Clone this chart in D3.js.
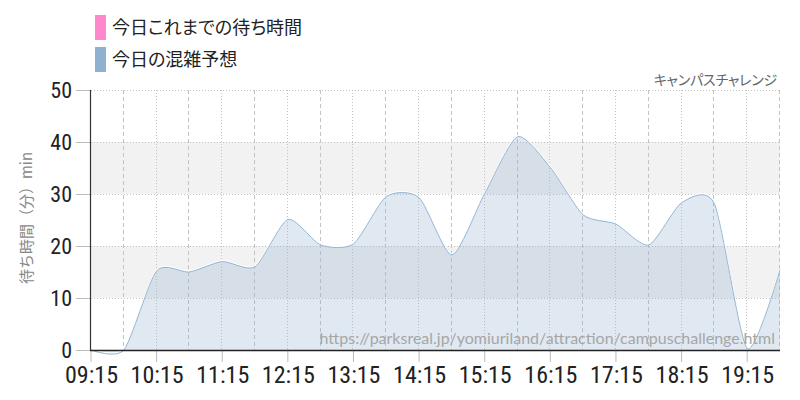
<!DOCTYPE html>
<html><head><meta charset="utf-8">
<script src="https://cdn.jsdelivr.net/npm/d3@7"></script>
<style>
html,body{margin:0;padding:0;background:#fff;}
svg{display:block;}
.num{font-family:"Roboto Condensed","Liberation Sans Narrow","DejaVu Sans Condensed",sans-serif;}
.jp{font-family:"Noto Sans CJK JP","Noto Sans",sans-serif;}
.palt{font-feature-settings:"palt";}
</style>
</head><body>
<svg id="c" width="800" height="400"></svg>
<script>
// ---- data ----
const times = ["09:15","09:45","10:15","10:45","11:15","11:45","12:15","12:45","13:15","13:45","14:15","14:45","15:15","15:45","16:15","16:45","17:15","17:45","18:15","18:45","19:15","19:45"];
const forecast = [0,0,15.2,15.0,17.0,16.0,25.1,20.2,20.4,29.5,29.3,18.3,30.1,41.0,35.1,26.0,24.2,20.2,28.3,28.1,0.3,15.4];
const actual = []; // 今日これまでの待ち時間 (no data yet)
const xTickLabels = ["09:15","10:15","11:15","12:15","13:15","14:15","15:15","16:15","17:15","18:15","19:15"];
const gridTimes = ["09:45","10:15","10:45","11:15","11:45","12:15","12:45","13:15","13:45","14:15","14:45","15:15","15:45","16:15","16:45","17:15","17:45","18:15","18:45","19:15","19:45"];
const yTicks = [0,10,20,30,40,50];
const bands = [[10,20],[30,40]];
const legendItems = [{label:"今日これまでの待ち時間",color:"#ff88cc"},{label:"今日の混雑予想",color:"#8fb0cf"}];
const title = "キャンパスチャレンジ";
const yTitle = "待ち時間（分）min";
const sourceUrl = "https://parksreal.jp/yomiuriland/attraction/campuschallenge.html";

const parse = d3.timeParse("%H:%M");
const svg = d3.select("#c");
const L=91, R=780, T=90, B=350;
const x = d3.scaleTime().domain([parse("09:15"), parse("19:45")]).range([L,R]);
const y = d3.scaleLinear().domain([0,50]).range([B,T]);

// bands
svg.selectAll("rect.band").data(bands).enter().append("rect")
  .attr("x",L).attr("width",R-L)
  .attr("y",d=>y(d[1])).attr("height",d=>y(d[0])-y(d[1]))
  .attr("fill","#f2f2f2");

// horizontal grid
svg.selectAll("line.hg").data(yTicks.filter(v=>v>0)).enter().append("line")
  .attr("x1",L).attr("x2",R).attr("y1",d=>y(d)+0.5).attr("y2",d=>y(d)+0.5)
  .attr("stroke","#c4c4c4").attr("stroke-dasharray","1,2");

// vertical grid every 30 min
const vt = gridTimes.map(parse);
svg.selectAll("line.vg").data(vt).enter().append("line")
  .attr("x1",d=>Math.round(x(d))-0.5).attr("x2",d=>Math.round(x(d))-0.5)
  .attr("y1",T).attr("y2",B)
  .attr("stroke","#c4c4c4")
  .attr("stroke-dasharray",d=>d.getMinutes()===45?"4,3":"1,2");

// area
const pts = times.map((t,i)=>({t:parse(t),v:forecast[i]}));
const curve = d3.curveCardinal.tension(0.3);
const area = d3.area().x(d=>x(d.t)).y0(y(0)).y1(d=>y(d.v)).curve(curve);
const line = d3.line().x(d=>x(d.t)).y(d=>y(d.v)).curve(curve);
svg.append("path").datum(pts).attr("d",area).attr("fill","#8fb0cf").attr("fill-opacity",0.28);
svg.append("path").datum(pts).attr("d",line).attr("fill","none").attr("stroke","#ffffff").attr("stroke-width",1.2).attr("transform","translate(0,-1)");
svg.append("path").datum(pts).attr("d",line).attr("fill","none").attr("stroke","#94b5d4").attr("stroke-width",1);

// actual series (empty)
if(actual.length){
  svg.append("path").datum(actual).attr("d",line).attr("fill","none").attr("stroke","#ff88cc");
}

// watermark
svg.append("text").attr("x",775).attr("y",344).attr("text-anchor","end")
  .attr("font-family","Lato,'Noto Sans',sans-serif").attr("font-size",16)
  .attr("fill","#a6a6a6").text(sourceUrl);

// x axis
const xa = svg.append("g").attr("transform",`translate(0,${B})`)
  .call(d3.axisBottom(x).tickValues(xTickLabels.map(parse)).tickFormat(d3.timeFormat("%H:%M")).tickSize(12).tickSizeOuter(0));
xa.select(".domain").remove();
xa.selectAll(".tick line").attr("stroke","#bbb").attr("transform","translate(-0.5,0)");
xa.selectAll(".tick text").attr("class","num").attr("font-size",24).attr("fill","#222").attr("dy","0.55em").attr("y",20);
svg.append("line").attr("x1",L-1).attr("x2",R).attr("y1",B+0.5).attr("y2",B+0.5).attr("stroke","#222").attr("stroke-width",1.5);

// y axis
const ya = svg.append("g").attr("transform",`translate(${L-1},0)`)
  .call(d3.axisLeft(y).tickValues(yTicks).tickSize(14).tickPadding(4));
ya.select(".domain").remove();
ya.selectAll(".tick line").attr("stroke","#bbb");
ya.selectAll(".tick text").attr("class","num").attr("font-size",22).attr("fill","#222").attr("dy","0.36em");
svg.append("line").attr("x1",L-0.5).attr("x2",L-0.5).attr("y1",T).attr("y2",B).attr("stroke","#333").attr("stroke-width",1.2);

// y title
svg.append("text").attr("class","jp").attr("transform","translate(32,218) rotate(-90)")
  .attr("text-anchor","middle").attr("font-size",15).attr("fill","#888").text(yTitle);

// chart title
svg.append("text").attr("class","jp palt").attr("x",777).attr("y",85).attr("text-anchor","end")
  .attr("font-size",14).attr("letter-spacing","-0.2").attr("fill","#666").text(title);

// legend
const lg = svg.selectAll("g.lg").data(legendItems).enter().append("g").attr("transform",(d,i)=>`translate(95,${15+i*32})`);
lg.append("rect").attr("width",11).attr("height",25).attr("fill",d=>d.color);
lg.append("text").attr("class","jp palt").attr("x",17).attr("y",19).attr("font-size",18).attr("fill","#222").text(d=>d.label);
</script>
</body></html>
